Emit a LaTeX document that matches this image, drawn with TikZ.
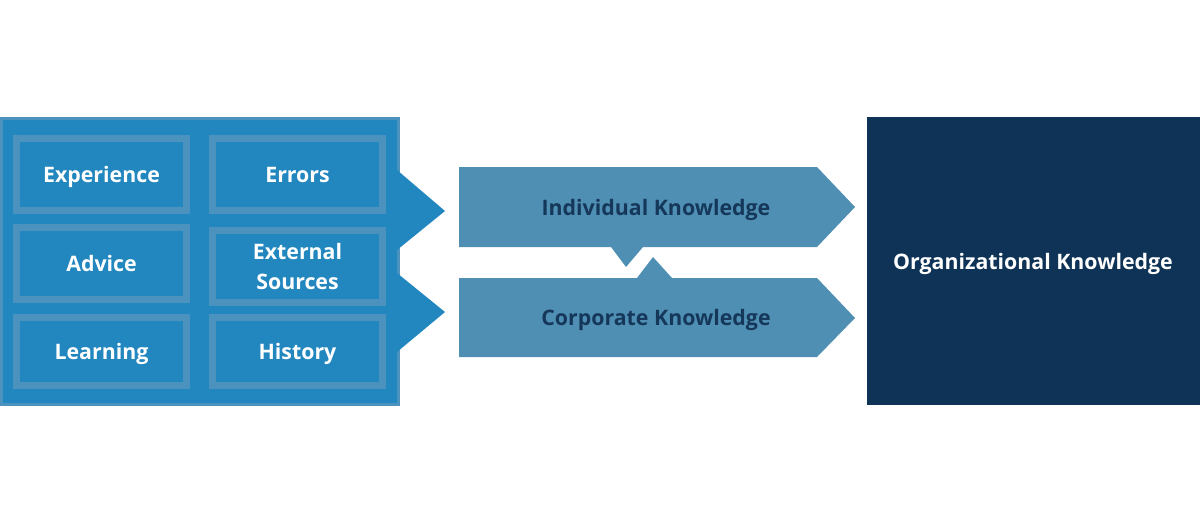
\documentclass[tikz,border=0pt]{standalone}
\usepackage{fontspec}
\setmainfont{Open Sans}
\definecolor{srcblue}{HTML}{2287BF}
\definecolor{srcedge}{HTML}{4C92BF}
\definecolor{midblue}{HTML}{4F8FB3}
\definecolor{navy}{HTML}{0F3356}
\definecolor{darktext}{HTML}{15375A}
\tikzset{
  srcbox/.style={draw=srcedge, line width=5.25pt, fill=srcblue, minimum width=127.5pt,
    minimum height=54pt, text=white, font=\bfseries\fontsize{16}{22}\selectfont, align=center,
    text depth=0pt},
  midtext/.style={text=darktext, font=\bfseries\fontsize{16}{22}\selectfont},
}
\begin{document}
\begin{tikzpicture}[x=0.75pt, y=-0.75pt]
            \useasboundingbox (0,0) rectangle (1200,526);

            % sources
            \fill[srcblue] (0,117) rectangle (399,405);
            \draw[srcedge, line width=2.25pt] (1,118) rectangle (398,404);
            \fill[srcblue] (397,170) -- (445,211) -- (397,250) -- cycle;
            \fill[srcblue] (397,273) -- (445,312) -- (397,352) -- cycle;

            \node[srcbox] (exp) at (101.5, 174.5) {Experience};
            \node[srcbox] (err) at (297.5, 174.5) {Errors};
            \node[srcbox] (adv) at (101.5, 263.5) {Advice};
            \node[srcbox] (ext) at (297.5, 266.5) {External\\Sources};
            \node[srcbox, minimum height=51pt] (lea) at (101.5, 351) {Learning};
            \node[srcbox, minimum height=51pt] (his) at (297.5, 351) {History};

            % knowledge arrows
            \fill[midblue] (459,167) -- (817,167) -- (855,207) -- (817,247) -- (643,247)
                -- (626,267) -- (611,247) -- (459,247) -- cycle;
            \fill[midblue] (459,278) -- (637,278) -- (653,257) -- (672,278) -- (817,278)
                -- (855,318) -- (817,357) -- (459,357) -- cycle;
            \node[midtext] (ind) at (656, 210) {Individual Knowledge};
            \node[midtext] (cor) at (656, 320) {Corporate Knowledge};

            % organization
            \fill[navy] (867,117) rectangle (1200,405);
            \node[text=white, font=\bfseries\fontsize{16}{22}\selectfont] (org) at (1033, 264)
                {Organizational Knowledge};
        \end{tikzpicture}
\end{document}
